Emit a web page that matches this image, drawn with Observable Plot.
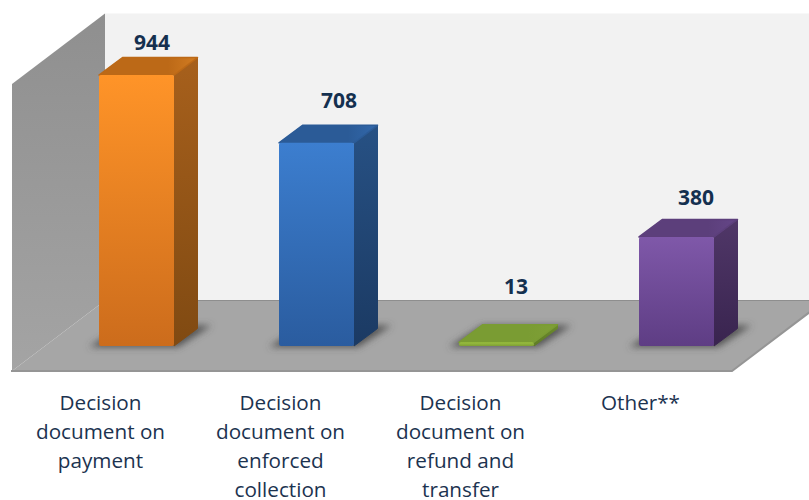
<!DOCTYPE html>
<html><head><meta charset="utf-8">
<style>html,body{margin:0;padding:0;background:#fff}svg{display:block}</style>
<script src="https://cdn.jsdelivr.net/npm/d3@7"></script>
<script src="https://cdn.jsdelivr.net/npm/@observablehq/plot@0.6"></script>
</head><body><div id="chart"></div>
<script>
const categories = ["payment","enforced","refund","other"];
const values = [944,708,13,380];
const tickLabels = [
  "Decision\ndocument on\npayment",
  "Decision\ndocument on\nenforced\ncollection",
  "Decision\ndocument on\nrefund and\ntransfer",
  "Other**"
];
const labelShift = [[50,-32],[57,-42],[54,-56],[54,-39]];
const palette = [
  {top:"#BC6917",hi:"#D27C22",f1:"#FF9428",f2:"#CC6C1C",s1:"#A7601C",s2:"#804A12"},
  {top:"#2B5B97",hi:"#3268AB",f1:"#3C7ECF",f2:"#2A5C9F",s1:"#275184",s2:"#1B3A63"},
  {top:"#7A9C33",hi:"#7F9F36",f1:"#9BC03F",f2:"#7E9F35",s1:"#6B8A2C",s2:"#5F7C26"},
  {top:"#5C3F7B",hi:"#654688",f1:"#7F58A9",f2:"#5E3D84",s1:"#503768",s2:"#39244F"}
];
const font = "'Open Sans', Lato, sans-serif";
const barDx = 35, depthX = 23.5, depthY = 17.5;
const frontX = -34.5, frontY = 25, backX = 58.5, backY = -45.5;
const poly = (g, pts, fill, extra = {}) => {
  const p = g.append("polygon").attr("points", pts.map(d => d.join(",")).join(" ")).attr("fill", fill);
  for (const k in extra) p.attr(k, extra[k]);
  return p;
};
const defsMark = () => {
  const s = d3.create("svg:defs");
  const lin = (id, a, b, x2 = 0, y2 = 1) => {
    const l = s.append("linearGradient").attr("id", id).attr("x1",0).attr("y1",0).attr("x2",x2).attr("y2",y2);
    l.append("stop").attr("offset",0).attr("stop-color",a);
    l.append("stop").attr("offset",1).attr("stop-color",b);
  };
  palette.forEach((c,i) => {
    lin("front"+i, c.f1, c.f2);
    lin("side"+i, c.s1, c.s2);
    const t = s.append("linearGradient").attr("id","top"+i).attr("x1",0).attr("y1",0).attr("x2",1).attr("y2",0);
    t.append("stop").attr("offset",0.7).attr("stop-color",c.top);
    t.append("stop").attr("offset",1).attr("stop-color",c.hi);
  });
  lin("leftWall","#8F8F8F","#A4A4A4");
  s.append("filter").attr("id","blur").attr("x","-30%").attr("y","-60%").attr("width","160%").attr("height","220%")
    .append("feGaussianBlur").attr("stdDeviation",3.5);
  return s.node();
};
const wallsMark = (index, scales, vals, dims) => {
  const g = d3.create("svg:g");
  const x0 = dims.marginLeft, x1 = dims.width - dims.marginRight;
  const yB = scales.y(0), yT = scales.y(1000);
  const fl = x0, fr = x1;
  const fb = yB + frontY, ft = yT + frontY;
  const dx = backX - frontX, dy = backY - frontY;
  poly(g, [[fl+dx, ft+dy],[dims.width+40, ft+dy],[dims.width+40, fb+dy],[fl+dx, fb+dy]], "#F2F2F2");
  poly(g, [[fl, ft],[fl+dx, ft+dy],[fl+dx, fb+dy],[fl, fb]], "url(#leftWall)");
  poly(g, [[fl, fb],[fr, fb],[fr+dx, fb+dy],[fl+dx, fb+dy]], "#A6A6A6");
  g.append("line").attr("x1",fl+dx).attr("x2",dims.width).attr("y1",fb+dy).attr("y2",fb+dy).attr("stroke","#8E8E8E").attr("stroke-width",1);
  g.append("polyline").attr("points",`${fl-1},${fb} ${fr},${fb} ${fr+dx},${fb+dy}`).attr("fill","none").attr("stroke","#959595").attr("stroke-width",2);
  return g.node();
};
const shadowMark = (index, scales) => {
  const g = d3.create("svg:g").attr("filter","url(#blur)");
  categories.forEach(c => {
    const l = scales.x(c) + barDx, w = scales.x.bandwidth(), b = scales.y(0);
    poly(g, [[l-10,b+1],[l+w+4,b+1],[l+w+depthX+14,b-depthY-3],[l+depthX,b-depthY-3]], "#4A4A4A", {opacity:0.9});
  });
  return g.node();
};
const facesMark = (index, scales) => {
  const g = d3.create("svg:g");
  categories.forEach((c,i) => {
    const l = scales.x(c) + barDx, w = scales.x.bandwidth(), r = l + w;
    const t = scales.y(values[i]), b = scales.y(0);
    poly(g, [[r,t],[r+depthX,t-depthY],[r+depthX,b-depthY],[r,b]], `url(#side${i})`, {"stroke":`url(#side${i})`,"stroke-width":1,"stroke-linejoin":"round"});
    poly(g, [[l,t],[r,t],[r+depthX,t-depthY],[l+depthX,t-depthY]], `url(#top${i})`, {"stroke":palette[i].top,"stroke-width":1.5,"stroke-linejoin":"round"});
  });
  return g.node();
};
const frontBars = categories.map((c,i) => Plot.barY([values[i]], {
  x: () => c, y: d => d, dx: barDx, fill: `url(#front${i})`, rx: 2
}));
const valueLabels = categories.map((c,i) => Plot.text([values[i]], {
  x: () => c, y: d => d, text: d => String(d),
  dx: labelShift[i][0], dy: labelShift[i][1],
  fill: "#15304F", fontSize: 21, fontWeight: 700, fontFamily: font
}));
const plot = Plot.plot({
  width: 809, height: 500,
  marginLeft: 12, marginRight: 77, marginTop: 59, marginBottom: 154,
  style: {background: "#fff", fontFamily: font, overflow: "hidden"},
  x: {type: "band", domain: categories, paddingInner: 0.5833, paddingOuter: 0.29165, align: 0.5, label: null, axis: null},
  y: {domain: [0,1000], axis: null, label: null},
  marks: [
    defsMark, wallsMark, shadowMark, facesMark,
    ...frontBars, ...valueLabels,
    Plot.axisX(categories, {
      anchor: "bottom", tickSize: 0, tickPadding: 42.5, label: null,
      tickFormat: c => tickLabels[categories.indexOf(c)],
      lineHeight: 1.41, fontSize: 20.7, fill: "#1C3350", fontFamily: font,
      dx: -1.5
    })
  ]
});
document.getElementById("chart").append(plot);
</script></body></html>
